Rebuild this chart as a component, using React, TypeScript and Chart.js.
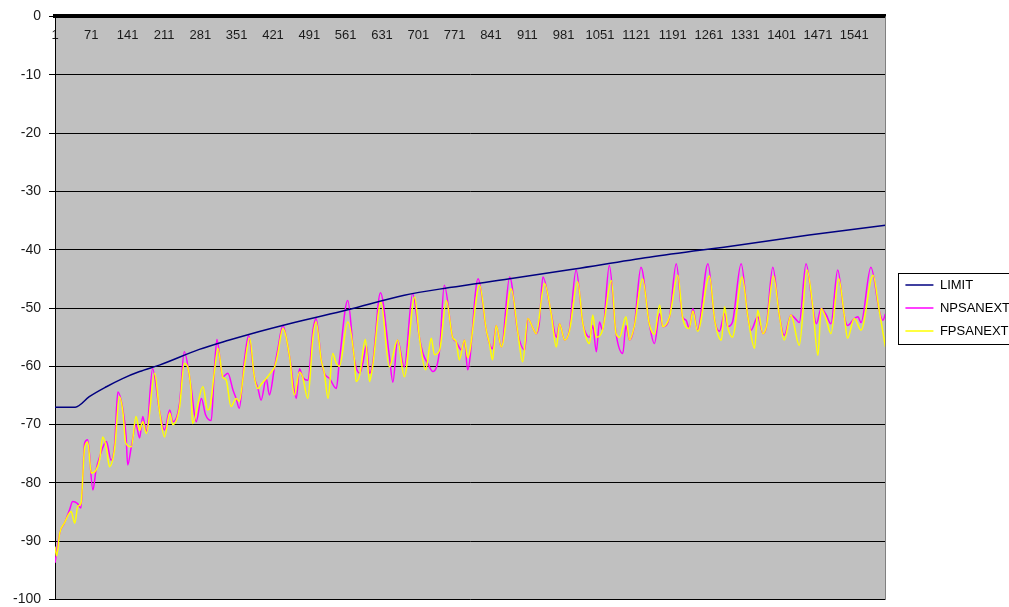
import React, { useEffect, useRef } from 'react';
import { Chart, registerables } from 'chart.js';

Chart.register(...registerables);

// Category tick labels shown along the top axis
const xTickLabels = [1, 71, 141, 211, 281, 351, 421, 491, 561, 631, 701, 771, 841, 911, 981, 1051, 1121, 1191, 1261, 1331, 1401, 1471, 1541];
const xMin = 1;
const xMax = 1601;
const yMin = -100;
const yMax = 0;
const yStep = 10;

const seriesNames = ['LIMIT', 'NPSANEXT', 'FPSANEXT'];
const seriesColors = ['#000080', '#FF00FF', '#FFFF00'];

// [sample index, value]
const limitPoints: [number, number][] = [
  [1, -67], [40, -67], [67, -65.2], [100, -63.5], [131, -62.1], [164, -60.9], [202, -59.8],
  [279, -57.1], [337, -55.5], [376, -54.5], [462, -52.5], [565, -50.3], [674, -47.8],
  [761, -46.5], [877, -45.0], [1002, -43.3], [1146, -41.3], [1320, -39.2], [1454, -37.5], [1601, -35.8],
];

const npsPoints: [number, number][] = [
  [1, -93.7], [10, -88.6], [19, -86.9], [29, -84.6], [35, -83.2], [44, -83.5], [51, -84.3], [58, -73.2], [64, -72.6],
  [74, -81.2], [80, -77.8], [87, -75.5], [100, -72.9], [109, -76.1], [116, -73.2], [122, -64.4], [132, -67.5],
  [138, -72.1], [141, -76.9], [148, -73.8], [157, -70.0], [164, -72.3], [170, -68.6], [177, -71.2], [189, -60.4],
  [202, -67.5], [212, -70.9], [222, -67.5], [228, -69.5], [241, -66.3], [250, -57.5], [263, -63.5], [273, -69.5],
  [283, -65.5], [291, -68.3], [302, -69.3], [308, -60.6], [313, -55.4], [324, -61.8], [334, -61.2], [344, -64.1],
  [350, -65.5], [356, -67.2], [366, -58.9], [374, -54.7], [385, -61.8], [392, -63.8], [398, -65.8], [408, -62.1],
  [414, -64.9], [424, -60.1], [430, -57.2], [440, -53.0], [453, -58.4], [466, -65.5], [472, -60.4], [478, -61.8],
  [488, -62.4], [498, -53.8], [504, -51.8], [514, -58.9], [520, -61.2], [530, -62.1], [543, -63.8], [549, -59.0],
  [565, -48.7], [578, -58.9], [588, -61.2], [594, -59.5], [601, -56.4], [607, -61.2], [613, -59.5], [628, -47.4],
  [645, -58.1], [652, -62.7], [661, -55.5], [674, -60.1], [690, -47.5], [703, -55.0], [710, -57.8], [719, -59.5],
  [729, -60.9], [742, -57.2], [751, -46.1], [767, -55.0], [774, -55.8], [784, -57.2], [790, -55.5], [796, -60.6],
  [816, -45.0], [832, -53.8], [838, -56.1], [844, -57.0], [851, -53.0], [861, -56.7], [877, -44.7], [893, -54.4],
  [906, -57.2], [912, -51.8], [922, -53.5], [928, -54.4], [934, -52.7], [941, -44.7], [957, -50.9], [967, -55.0],
  [973, -52.7], [983, -55.5], [992, -53.8], [1005, -43.5], [1018, -52.7], [1024, -54.4], [1031, -55.0], [1037, -53.0],
  [1044, -57.5], [1050, -52.4], [1056, -53.8], [1069, -42.7], [1082, -54.4], [1095, -57.8], [1101, -53.0], [1108, -55.5],
  [1117, -53.2], [1130, -43.0], [1146, -52.7], [1156, -56.1], [1166, -51.0], [1172, -53.2], [1185, -51.5], [1198, -42.4],
  [1210, -51.5], [1217, -52.1], [1223, -53.5], [1230, -50.1], [1239, -53.8], [1259, -42.4], [1272, -52.1], [1281, -54.0],
  [1291, -51.0], [1297, -53.2], [1306, -52.5], [1323, -42.4], [1336, -51.5], [1342, -53.8], [1355, -51.5], [1365, -54.4],
  [1371, -53.5], [1384, -43.0], [1397, -51.5], [1406, -54.7], [1419, -51.2], [1429, -52.0], [1435, -52.5], [1448, -42.4],
  [1461, -49.8], [1468, -52.7], [1477, -50.1], [1487, -51.2], [1496, -52.7], [1509, -43.5], [1522, -51.5], [1528, -53.0],
  [1541, -51.8], [1548, -51.5], [1554, -52.5], [1573, -43.0], [1589, -50.4], [1596, -52.1], [1601, -51.0],
];

const fpsPoints: [number, number][] = [
  [1, -90.9], [4, -92.5], [10, -88.6], [19, -86.9], [32, -84.9], [39, -86.9], [45, -84.0], [51, -83.5], [58, -74.0],
  [64, -73.0], [71, -78.3], [80, -77.8], [87, -76.0], [93, -72.1], [100, -74.0], [106, -77.2], [116, -74.0], [125, -65.2],
  [132, -68.0], [137, -73.1], [148, -73.8], [157, -68.6], [164, -71.0], [170, -69.5], [177, -71.5], [193, -61.2],
  [202, -67.5], [212, -72.1], [222, -68.0], [228, -70.0], [241, -67.0], [250, -59.5], [263, -64.0], [266, -69.8],
  [286, -63.5], [295, -67.5], [299, -67.2], [308, -61.0], [315, -56.9], [324, -61.8], [331, -62.4], [340, -66.9],
  [350, -65.5], [356, -66.0], [366, -60.0], [376, -55.2], [385, -61.8], [392, -63.8], [399, -63.0], [408, -62.1],
  [418, -60.9], [424, -60.1], [430, -58.0], [440, -53.5], [453, -58.4], [462, -64.9], [472, -61.0], [478, -61.8],
  [488, -65.5], [498, -55.0], [504, -52.4], [514, -59.0], [520, -61.2], [527, -65.5], [536, -57.8], [543, -59.5],
  [549, -60.0], [565, -52.4], [578, -59.0], [581, -62.6], [588, -61.5], [599, -55.4], [607, -62.6], [613, -60.0],
  [629, -49.0], [645, -60.1], [661, -55.5], [674, -61.8], [694, -48.1], [703, -55.0], [715, -60.6], [726, -55.2],
  [732, -58.0], [742, -57.2], [755, -48.7], [767, -55.0], [774, -55.8], [780, -58.9], [790, -55.5], [796, -58.5],
  [819, -46.1], [832, -53.8], [838, -56.1], [844, -58.9], [851, -53.0], [861, -56.7], [880, -46.7], [893, -54.4],
  [902, -59.2], [912, -51.8], [922, -53.5], [928, -54.4], [944, -45.8], [957, -51.0], [967, -56.7], [973, -52.7],
  [983, -55.5], [992, -54.0], [1008, -45.5], [1018, -52.7], [1031, -56.1], [1037, -51.2], [1044, -55.0], [1056, -53.8],
  [1073, -45.3], [1082, -54.4], [1089, -55.0], [1101, -51.5], [1108, -55.5], [1117, -53.2], [1133, -45.0], [1146, -52.7],
  [1156, -54.5], [1166, -49.5], [1172, -53.2], [1185, -51.5], [1201, -44.4], [1210, -51.5], [1223, -53.5], [1230, -50.5],
  [1239, -54.0], [1262, -44.5], [1272, -52.1], [1285, -55.5], [1291, -49.8], [1297, -53.2], [1306, -55.0], [1325, -44.7],
  [1336, -51.5], [1349, -56.9], [1355, -50.4], [1365, -54.4], [1372, -53.0], [1385, -44.5], [1397, -51.5], [1406, -55.5],
  [1419, -51.2], [1435, -56.4], [1450, -43.5], [1461, -49.8], [1471, -58.1], [1477, -50.1], [1487, -52.0], [1496, -54.4],
  [1511, -45.0], [1522, -51.5], [1528, -55.2], [1541, -51.8], [1554, -53.8], [1577, -44.4], [1589, -50.4], [1601, -56.7],
];

const FONT = "'Liberation Sans', Arial, sans-serif";

const plotDecor = {
  id: 'plotDecor',
  beforeDraw(chart: any) {
    const { ctx, chartArea: a } = chart;
    ctx.save();
    ctx.fillStyle = '#C0C0C0';
    ctx.fillRect(a.left, a.top, a.right - a.left, a.bottom - a.top);
    ctx.restore();
  },
  afterDraw(chart: any) {
    const { ctx, chartArea: a } = chart;
    ctx.save();
    ctx.strokeStyle = '#808080';
    ctx.lineWidth = 1;
    ctx.beginPath();
    ctx.moveTo(Math.round(a.right) + 0.5, a.top);
    ctx.lineTo(Math.round(a.right) + 0.5, a.bottom);
    ctx.stroke();
    const hb = chart.legend && chart.legend.legendHitBoxes;
    if (hb && hb.length) {
      const first = hb[0];
      const last = hb[hb.length - 1];
      const x = Math.round(first.left - 7) + 0.5;
      const y = Math.round(first.top - 6) + 0.5;
      const h = Math.round(last.top + last.height + 6 - (first.top - 6));
      ctx.strokeStyle = '#000000';
      ctx.strokeRect(x, y, chart.width, h);
    }
    ctx.restore();
  },
};

export default function App() {
  const canvasRef = useRef<HTMLCanvasElement | null>(null);

  useEffect(() => {
    if (!canvasRef.current) return;
    Chart.defaults.font.family = FONT;
    const toXY = (pts: [number, number][]) => pts.map(([x, y]) => ({ x, y }));
    const allPoints = [limitPoints, npsPoints, fpsPoints];
    const drawOrder = [0, 2, 1];
    const chart = new Chart(canvasRef.current, {
      type: 'line',
      data: {
        datasets: seriesNames.map((name, i) => ({
          label: name,
          data: toXY(allPoints[i]),
          borderColor: seriesColors[i],
          backgroundColor: seriesColors[i],
          borderWidth: 1.5,
          pointRadius: 0,
          pointStyle: 'line',
          cubicInterpolationMode: 'monotone' as const,
          fill: false,
          order: drawOrder[i],
        })),
      },
      options: {
        responsive: false,
        animation: false,
        devicePixelRatio: 1,
        layout: { padding: { left: 5, top: 0, right: 0, bottom: 0 } },
        plugins: {
          tooltip: { enabled: false },
          legend: {
            display: true,
            position: 'right',
            align: 'center',
            labels: {
              usePointStyle: true,
              pointStyle: 'line',
              pointStyleWidth: 28,
              padding: 10,
              color: '#000000',
              font: { family: FONT, size: 13 },
              sort: (a: any, b: any) => a.datasetIndex - b.datasetIndex,
            },
          },
        },
        scales: {
          x: {
            type: 'linear',
            position: 'top',
            min: xMin,
            max: xMax,
            afterBuildTicks: (scale: any) => {
              scale.ticks = xTickLabels.map((v) => ({ value: v }));
            },
            afterFit: (scale: any) => {
              scale.height = 16;
            },
            grid: { display: false, drawTicks: false },
            border: { display: true, color: '#000000', width: 4 },
            ticks: {
              mirror: true,
              padding: 11,
              autoSkip: false,
              maxRotation: 0,
              color: '#1a1a1a',
              font: { family: FONT, size: 13 },
              callback: (v: any) => String(v),
            },
          },
          y: {
            type: 'linear',
            position: 'left',
            min: yMin,
            max: yMax,
            ticks: {
              stepSize: yStep,
              padding: 8,
              color: '#1a1a1a',
              font: { family: FONT, size: 14 },
            },
            grid: { color: '#000000', lineWidth: 1, tickLength: 6, drawTicks: true },
            border: { display: true, color: '#000000', width: 1 },
          },
          gap: {
            type: 'linear',
            position: 'right',
            display: true,
            grid: { display: false },
            border: { display: false },
            ticks: { display: false },
            afterFit: (scale: any) => {
              scale.width = 10;
            },
          },
        },
      },
      plugins: [plotDecor],
    } as any);
    return () => chart.destroy();
  }, []);

  return (
    <div style={{ position: 'absolute', left: 0, top: 0, width: 1009, height: 607, overflow: 'hidden', background: '#ffffff' }}>
      <canvas ref={canvasRef} width={1020} height={616} style={{ width: 1020, height: 616, display: 'block' }} />
    </div>
  );
}
